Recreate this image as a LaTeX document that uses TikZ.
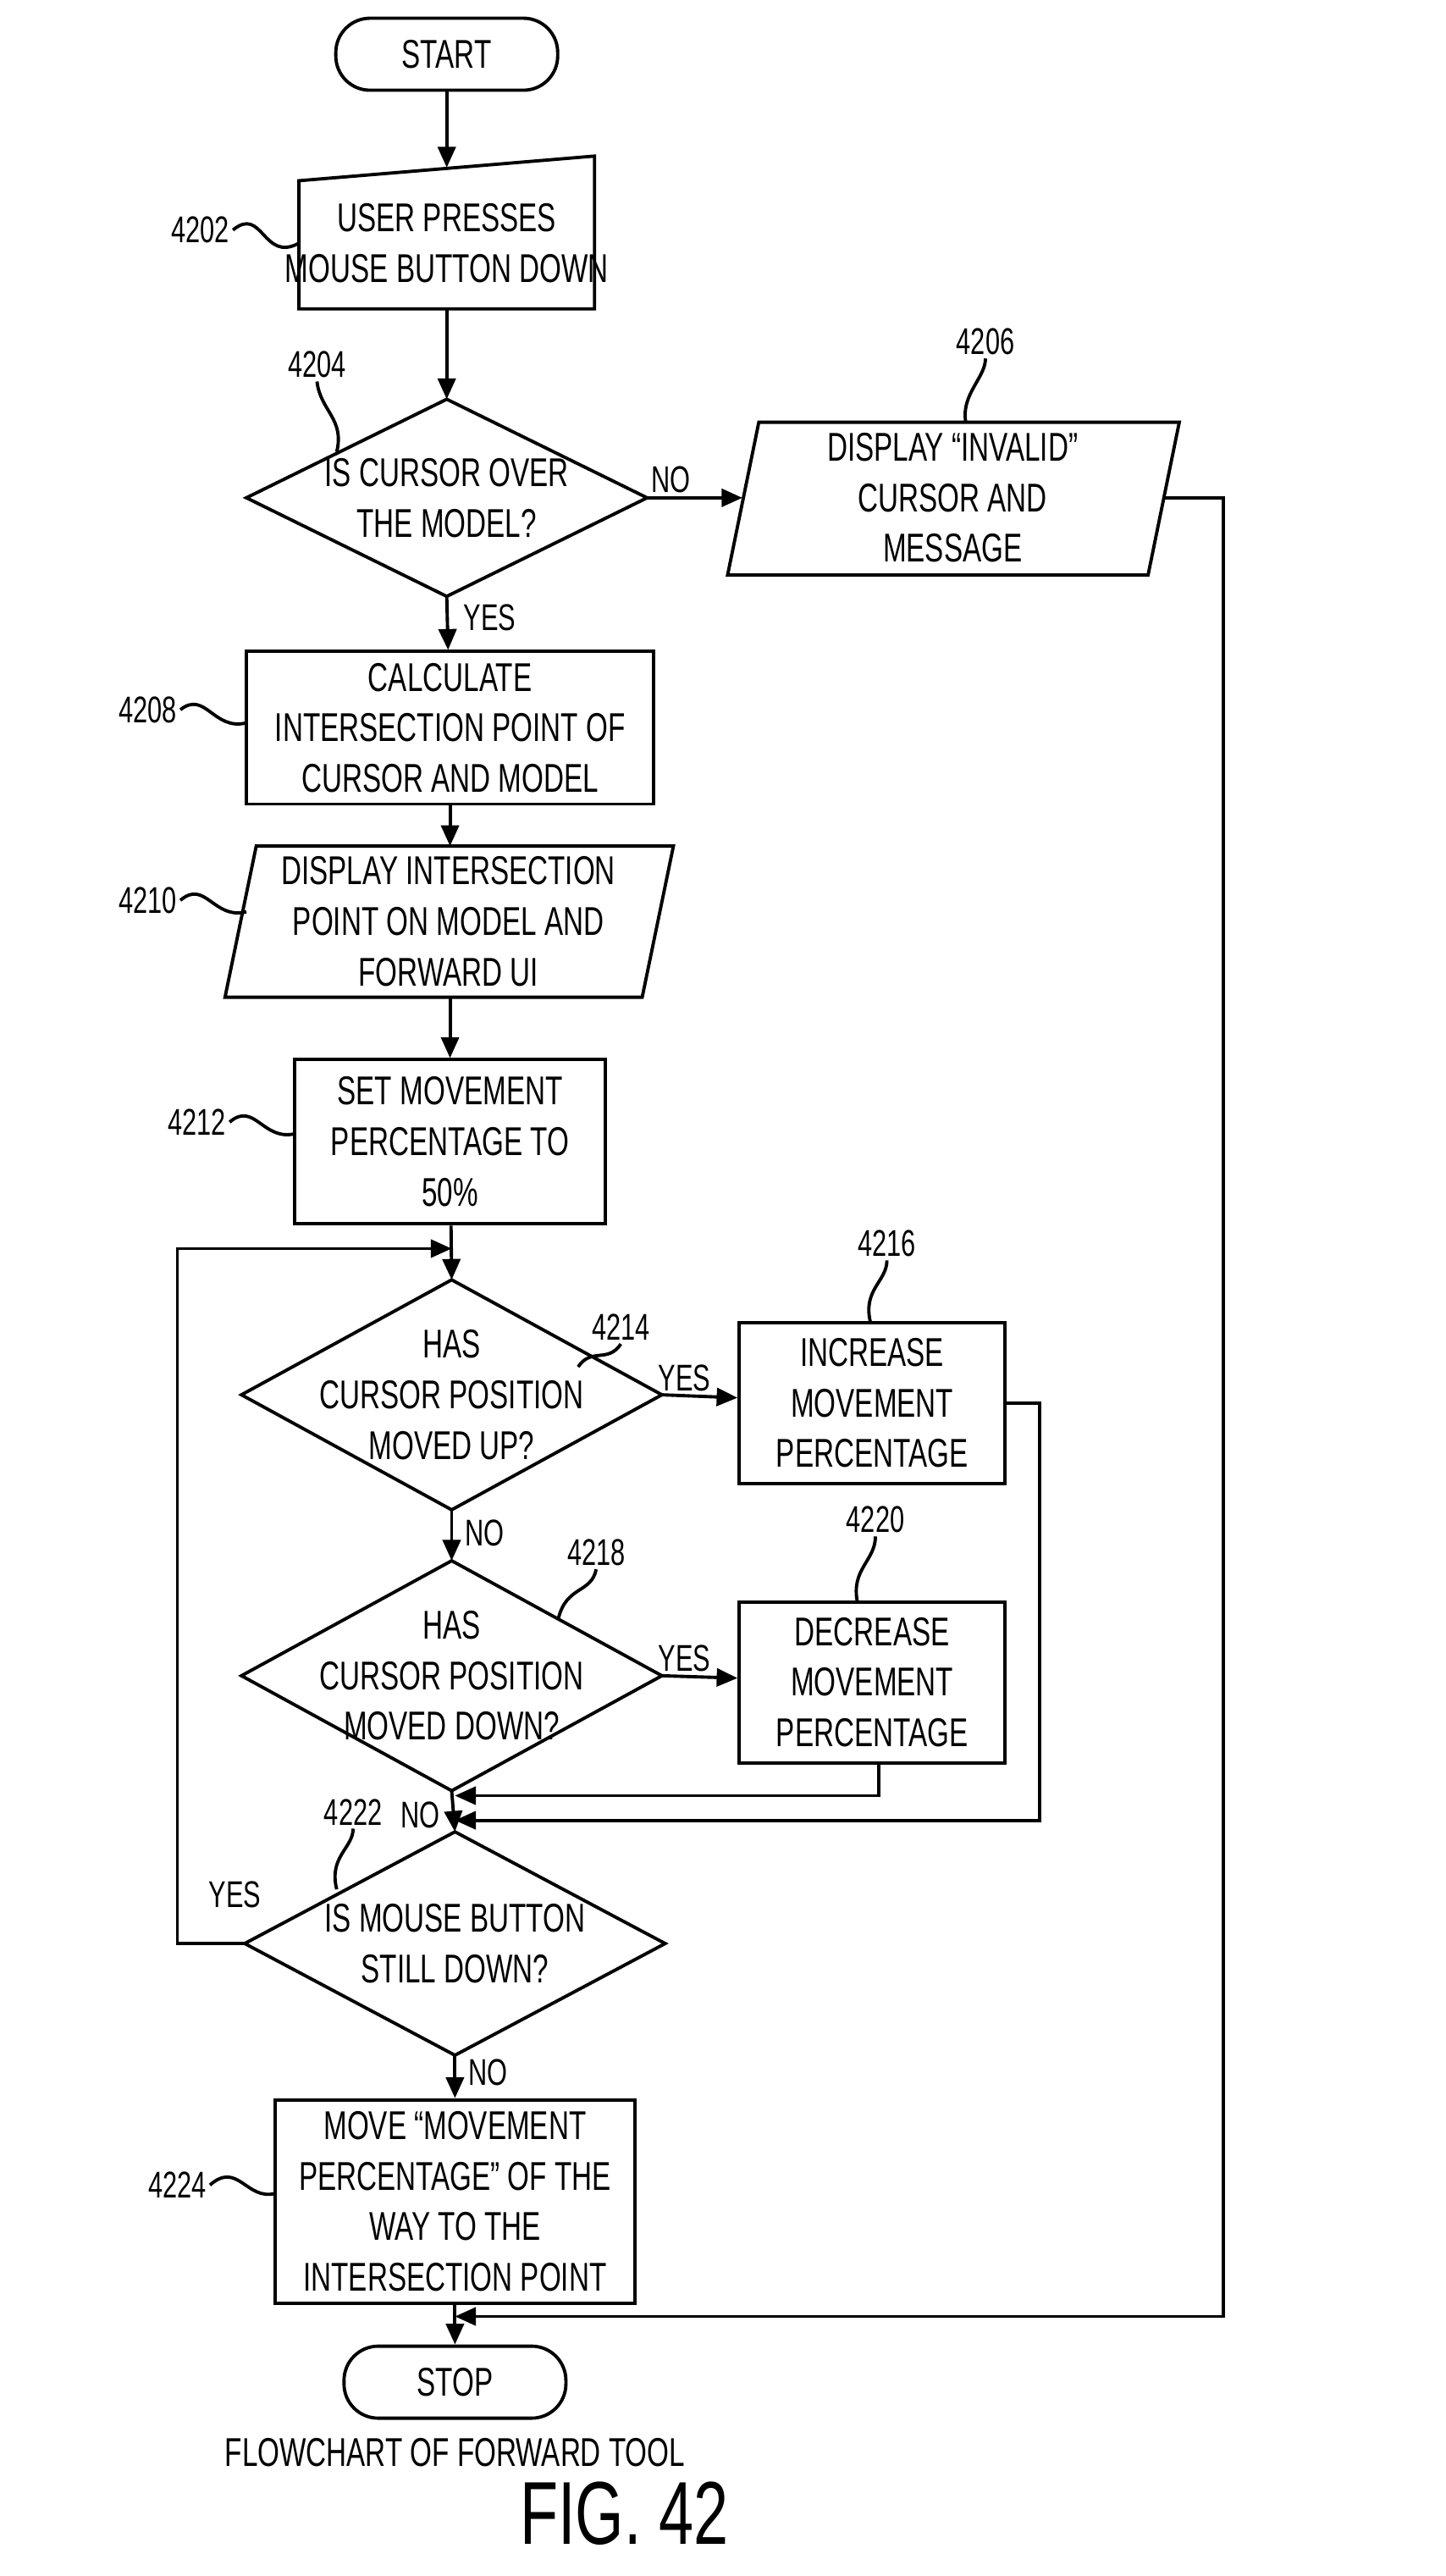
\documentclass[tikz,border=0pt]{standalone}
\usepackage{fontspec}
\setmainfont{Liberation Sans}[FakeStretch=0.7]
\usetikzlibrary{arrows.meta}
\tikzset{
  box/.style={draw, line width=1.1pt, align=center, font=\fontsize{13.5}{17}\selectfont},
  term/.style={box, rounded corners=11.5pt, minimum width=2.62cm, minimum height=0.85cm},
  txt/.style={align=center, font=\fontsize{13.5}{17}\selectfont, inner sep=0pt},
  lbl/.style={font=\fontsize{12.5}{15}\selectfont, inner sep=1pt},
  line/.style={line width=1.1pt},
  arr/.style={line width=1.1pt, -{Triangle[length=7pt,width=6pt]}},
}
% decision: name, x, y, half width, half height, text
\newcommand{\decide}[6]{%
  \coordinate (#1-n) at (#2,#3-#5); \coordinate (#1-s) at (#2,#3+#5);
  \coordinate (#1-w) at (#2-#4,#3); \coordinate (#1-e) at (#2+#4,#3);
  \draw[line] (#1-n) -- (#1-e) -- (#1-s) -- (#1-w) -- cycle;
  \node[txt] (#1) at (#2,#3) {#6};}
\begin{document}
\begin{tikzpicture}[x=0.0194cm, y=-0.0194cm]
\useasboundingbox (0,0) rectangle (880,1568);
% start
\node[term] (start) at (272,33) {START};
% 4202 manual input
\draw[line] (182,110) -- (362,95) -- (362,188) -- (182,188) -- cycle;
\node[txt] (b4202) at (272,148) {USER PRESSES\\MOUSE BUTTON DOWN};
\coordinate (b4202-n) at (272,102); \coordinate (b4202-s) at (272,188);
\decide{d4204}{272}{303}{122}{60}{IS CURSOR OVER\\THE MODEL?}
% 4206
\draw[line] (462,257) -- (718,257) -- (699,350) -- (443,350) -- cycle;
\node[txt] (b4206) at (580,303) {DISPLAY ``INVALID''\\CURSOR AND\\MESSAGE};
\coordinate (b4206-w) at (452,303); \coordinate (b4206-e) at (709,303);
\node[box, minimum width=4.81cm, minimum height=1.8cm] (b4208) at (274,443) {CALCULATE\\INTERSECTION POINT OF\\CURSOR AND MODEL};
% 4210
\draw[line] (156,515) -- (410,515) -- (391,607) -- (137,607) -- cycle;
\node[txt] (b4210) at (273,561) {DISPLAY INTERSECTION\\POINT ON MODEL AND\\FORWARD UI};
\coordinate (b4210-n) at (274,515); \coordinate (b4210-s) at (274,607);
\node[box, minimum width=3.67cm, minimum height=1.94cm] (b4212) at (274,695) {SET MOVEMENT\\PERCENTAGE TO\\50\%};
\decide{d4214}{275}{849}{128}{70}{HAS\\CURSOR POSITION\\MOVED UP?}
\node[box, minimum width=3.14cm, minimum height=1.9cm] (b4216) at (531,854) {INCREASE\\MOVEMENT\\PERCENTAGE};
\decide{d4218}{275}{1020}{128}{70}{HAS\\CURSOR POSITION\\MOVED DOWN?}
\node[box, minimum width=3.14cm, minimum height=1.9cm] (b4220) at (531,1024) {DECREASE\\MOVEMENT\\PERCENTAGE};
\decide{d4222}{277}{1183}{128}{68}{IS MOUSE BUTTON\\STILL DOWN?}
\node[box, minimum width=4.25cm, minimum height=2.4cm] (b4224) at (277,1340) {MOVE ``MOVEMENT\\PERCENTAGE'' OF THE\\WAY TO THE\\INTERSECTION POINT};
\node[term] (stop) at (277,1450) {STOP};
\node[txt] (cap) at (277,1493) {FLOWCHART OF FORWARD TOOL};
\node[inner sep=0pt, font=\fontsize{30}{32}\selectfont] (fig) at (380,1530) {FIG. 42};
% connectors
\draw[arr] (start) -- (b4202-n);
\draw[arr] (b4202-s) -- (d4204-n);
\draw[arr] (d4204-e) -- (b4206-w) node[lbl, pos=0.25, above] {NO};
\draw[arr] (d4204-s) -- (b4208) node[lbl, pos=0.4, right=4pt] {YES};
\draw[arr] (b4208) -- (b4210-n);
\draw[arr] (b4210-s) -- (b4212);
\coordinate (loop) at (275,760);
\draw[arr] (b4212) -- (d4214-n);
\draw[arr] (d4214-e) -- (b4216) node[lbl, pos=0.3, above] {YES};
\draw[arr] (d4214-s) -- (d4218-n) node[lbl, pos=0.45, right=3pt] {NO};
\draw[arr] (d4218-e) -- (b4220) node[lbl, pos=0.3, above] {YES};
\draw[arr] (d4218-s) -- (d4222-n) node[lbl, pos=0.6, left=3pt] {NO};
\coordinate (j1) at (277,1093); \coordinate (j2) at (277,1108);
\draw[arr] (b4220.south -| 535,0) |- (j1);
\draw[arr] (b4216.east) -- (633,854) |- (j2);
\draw[arr] (d4222-w) -- (108,1183) |- (loop);
\node[lbl] (yes3) at (143,1153) {YES};
\draw[arr] (d4222-s) -- (b4224) node[lbl, pos=0.4, right=3pt] {NO};
\coordinate (j3) at (277,1410);
\draw[arr] (b4206-e) -- (745,303) |- (j3);
\draw[arr] (b4224) -- (stop);
% reference numerals
\node[lbl] (n4202) at (122,140) {4202};
\draw[line] (n4202.east) .. controls (160,125) and (160,160) .. (182,148);
\node[lbl] (n4204) at (193,222) {4204};
\draw[line] (n4204.south) .. controls (195,250) and (210,255) .. (205,275);
\node[lbl] (n4206) at (600,208) {4206};
\draw[line] (n4206.south) .. controls (600,230) and (585,240) .. (588,257);
\node[lbl] (n4208) at (90,432) {4208};
\draw[line] (n4208.east) .. controls (125,420) and (130,445) .. (150,440);
\node[lbl] (n4210) at (90,548) {4210};
\draw[line] (n4210.east) .. controls (125,535) and (130,560) .. (150,555);
\node[lbl] (n4212) at (120,683) {4212};
\draw[line] (n4212.east) .. controls (155,670) and (160,695) .. (180,690);
\node[lbl] (n4214) at (378,808) {4214};
\draw[line] (n4214.south) .. controls (370,830) and (360,820) .. (352,832);
\node[lbl] (n4216) at (540,757) {4216};
\draw[line] (n4216.south) .. controls (540,780) and (525,785) .. (530,805);
\node[lbl] (n4218) at (363,945) {4218};
\draw[line] (n4218.south) .. controls (360,970) and (345,965) .. (340,985);
\node[lbl] (n4220) at (533,925) {4220};
\draw[line] (n4220.south) .. controls (533,950) and (518,955) .. (522,975);
\node[lbl] (n4222) at (215,1103) {4222};
\draw[line] (n4222.south) .. controls (215,1125) and (200,1130) .. (205,1150);
\node[lbl] (n4224) at (108,1330) {4224};
\draw[line] (n4224.east) .. controls (145,1315) and (150,1340) .. (168,1335);
\end{tikzpicture}
\end{document}
